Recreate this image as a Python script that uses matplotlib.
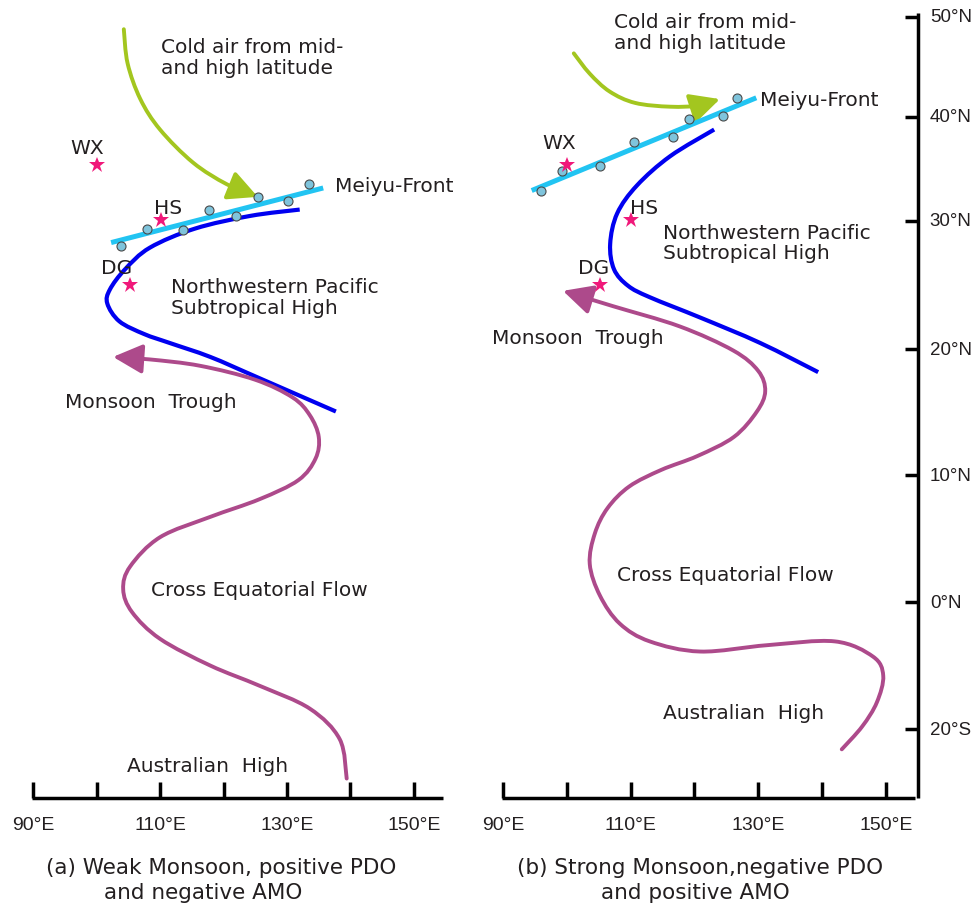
import matplotlib
matplotlib.use("Agg")
import matplotlib.pyplot as plt
import numpy as np
from matplotlib.path import Path
from matplotlib.patches import PathPatch, FancyArrowPatch, ArrowStyle

# ---- schematic data (lon in deg E, lat in schematic deg) ----
lon_ticks = [90, 100, 110, 120, 130, 140, 150]
lon_labels = {90: '90°E', 110: '110°E', 130: '130°E', 150: '150°E'}
lat_ticks = [46.1, 38.2, 30.0, 19.9, 10.0, 0.0, -10.0]
lat_labels = ['50°N', '40°N', '30°N', '20°N', '10°N', '0°N', '20°S']

# stalagmite sites (same in both panels)
site_names = ['WX', 'HS', 'DG']
site_lon = [100.0, 110.1, 105.2]
site_lat = [34.4, 30.1, 25.0]

# panel (a): weak monsoon
a_front_lon = [102.3, 135.7]
a_front_lat = [28.3, 32.6]
a_dots_lon = [103.9, 108.0, 113.6, 117.7, 122.0, 125.4, 130.2, 133.5]
a_dots_lat = [28.0, 29.4, 29.3, 30.9, 30.4, 31.9, 31.6, 32.9]
a_high_lon = [132.0, 124.2, 115.5, 108.4, 104.5, 102.1, 101.7, 103.6, 107.5, 111.5, 117.9, 125.3, 137.7]
a_high_lat = [30.9, 30.4, 29.4, 27.9, 26.2, 24.6, 23.5, 22.1, 21.1, 20.4, 19.3, 17.7, 15.0]
a_flow_lon = [139.4, 138.3, 133.6, 125.7, 117.9, 110.0, 105.6, 104.2, 105.3, 110.0, 117.9, 125.7,
              131.8, 134.5, 135.0, 133.6, 130.9, 125.0, 116.3, 108.4, 102.6]
a_flow_lat = [-13.9, -10.8, -8.4, -6.6, -5.0, -2.9, -0.8, 1.0, 2.8, 5.1, 6.7, 8.1,
              9.6, 11.3, 13.0, 14.7, 16.1, 17.5, 18.6, 19.1, 19.3]
a_cold_lon = [104.3, 104.9, 106.9, 110.0, 115.2, 120.5, 125.4]
a_cold_lat = [45.1, 42.4, 39.6, 37.2, 34.6, 32.9, 31.9]

# panel (b): strong monsoon
b_front_lon = [94.5, 129.7]
b_front_lat = [32.4, 39.7]
b_dots_lon = [96.0, 99.2, 105.2, 110.5, 116.6, 119.2, 124.5, 126.7]
b_dots_lat = [32.4, 33.9, 34.3, 36.2, 36.6, 38.0, 38.3, 39.7]
b_high_lon = [123.1, 116.2, 111.0, 107.9, 106.8, 107.4, 109.6, 113.0, 120.9, 130.3, 139.4]
b_high_lat = [37.2, 35.1, 32.8, 30.6, 28.2, 26.2, 24.9, 24.0, 22.4, 20.4, 18.1]
b_flow_lon = [143.1, 146.3, 148.6, 149.6, 148.0, 142.0, 131.4, 120.9, 113.0, 108.3, 105.2, 103.6,
              104.4, 106.4, 109.8, 114.8, 120.5, 126.2, 129.8, 131.1, 130.0, 126.1, 117.7, 107.2, 99.4]
b_flow_lat = [-11.6, -9.8, -7.9, -5.8, -4.3, -3.1, -3.4, -3.9, -3.1, -1.7, 0.5, 3.0,
              5.4, 7.4, 9.1, 10.4, 11.5, 13.0, 15.0, 16.6, 18.2, 19.8, 21.7, 23.3, 24.5]
b_cold_lon = [101.1, 103.6, 106.7, 110.7, 116.2, 120.9, 124.0]
b_cold_lat = [43.2, 41.6, 40.2, 39.3, 39.0, 39.1, 39.6]

TXT = '#231f20'
PURPLE = '#ad4a8b'
BLUE = '#0000f0'
CYAN = '#22c4f2'
GREEN = '#a3c61f'
PINK = '#f0187a'
FONT = 'DejaVu Sans'
TICKFONT = 'Liberation Sans'


def smooth_path(xs, ys):
    # Catmull-Rom through the points, handed to matplotlib as cubic Beziers
    pts = np.column_stack([xs, ys]).astype(float)
    n = len(pts)
    verts = [pts[0]]
    codes = [Path.MOVETO]
    for i in range(n - 1):
        p0 = pts[i - 1] if i > 0 else pts[i]
        p1, p2 = pts[i], pts[i + 1]
        p3 = pts[i + 2] if i + 2 < n else pts[i + 1]
        verts += [p1 + (p2 - p0) / 6, p2 - (p3 - p1) / 6, p2]
        codes += [Path.CURVE4] * 3
    return Path(verts, codes)


def curve(ax, xs, ys, color, lw=3.0):
    ax.add_patch(PathPatch(smooth_path(xs, ys), fill=False, edgecolor=color,
                           lw=lw, capstyle='butt'))


def arrow_curve(ax, xs, ys, color, lw=3.0, size=18):
    style = ArrowStyle('-|>', head_length=1.0, head_width=0.5)
    ax.add_patch(FancyArrowPatch(path=smooth_path(xs, ys), arrowstyle=style,
                                 mutation_scale=size, color=color, lw=lw))


def common(ax, front_lon, front_lat, dots_lon, dots_lat):
    ax.plot(front_lon, front_lat, color=CYAN, lw=3.6, solid_capstyle='butt', zorder=3)
    ax.plot(dots_lon, dots_lat, 'o', ms=6.5, mfc='#7fc4dc', mec='#4a4a4a', mew=0.8, zorder=4)
    ax.plot(site_lon, site_lat, '*', ms=12, color=PINK, mew=0, zorder=5)
    # bottom longitude axis
    ax.plot([89.85, lon_ticks[-1] + 4.6], [-15.4, -15.4], color='black', lw=2.5,
            solid_capstyle='butt')
    for t in lon_ticks:
        ax.plot([t, t], [-15.4, -14.2], color='black', lw=2.5, solid_capstyle='butt')
    for t, s in lon_labels.items():
        ax.text(t, -17.5, s, ha='center', va='center', fontsize=14,
                family=TICKFONT, color=TXT)


fig = plt.figure(figsize=(9.76, 9.04), dpi=100)
ax_a = fig.add_axes([0, 0, 470 / 976, 1])
ax_b = fig.add_axes([470 / 976, 0, 506 / 976, 1])
ax_a.set_xlim(84.80, 158.82)
ax_b.set_xlim(84.83, 164.14)
for ax in (ax_a, ax_b):
    ax.set_ylim(-23.70, 47.48)
    ax.axis('off')

tk = dict(fontsize=14.5, family=FONT, color=TXT, va='center', ha='left')
cap = dict(ha='center', va='center', fontsize=15.5, family=FONT, color=TXT)

# ---------- panel (a) ----------
curve(ax_a, a_high_lon, a_high_lat, BLUE, lw=3.0)
arrow_curve(ax_a, a_flow_lon, a_flow_lat, PURPLE, lw=2.8)
arrow_curve(ax_a, a_cold_lon, a_cold_lat, GREEN, lw=2.8)
common(ax_a, a_front_lon, a_front_lat, a_dots_lon, a_dots_lat)
ax_a.text(110.2, 42.9, 'Cold air from mid-\nand high latitude', linespacing=1.1, **tk)
ax_a.text(95.8, 35.8, 'WX', **tk)
ax_a.text(109.1, 31.1, 'HS', **tk)
ax_a.text(100.7, 26.3, 'DG', **tk)
ax_a.text(137.6, 32.8, 'Meiyu-Front', **tk)
ax_a.text(111.7, 24.0, 'Northwestern Pacific\nSubtropical High', linespacing=1.1, **tk)
ax_a.text(95.0, 15.8, 'Monsoon  Trough', **tk)
ax_a.text(108.6, 1.0, 'Cross Equatorial Flow', **tk)
ax_a.text(104.8, -12.9, 'Australian  High', **tk)
ax_a.text(119.6, -20.9, '(a) Weak Monsoon, positive PDO', **cap)
ax_a.text(116.8, -22.8, 'and negative AMO', **cap)

# ---------- panel (b) ----------
curve(ax_b, b_high_lon, b_high_lat, BLUE, lw=3.0)
arrow_curve(ax_b, b_flow_lon, b_flow_lat, PURPLE, lw=2.8)
arrow_curve(ax_b, b_cold_lon, b_cold_lat, GREEN, lw=2.8)
common(ax_b, b_front_lon, b_front_lat, b_dots_lon, b_dots_lat)
ax_b.text(107.4, 44.9, 'Cold air from mid-\nand high latitude', linespacing=1.1, **tk)
ax_b.text(96.1, 36.2, 'WX', **tk)
ax_b.text(109.9, 31.1, 'HS', **tk)
ax_b.text(101.8, 26.3, 'DG', **tk)
ax_b.text(130.3, 39.6, 'Meiyu-Front', **tk)
ax_b.text(115.1, 28.3, 'Northwestern Pacific\nSubtropical High', linespacing=1.1, **tk)
ax_b.text(88.3, 20.8, 'Monsoon  Trough', **tk)
ax_b.text(107.9, 2.2, 'Cross Equatorial Flow', **tk)
ax_b.text(115.1, -8.7, 'Australian  High', **tk)
ax_b.text(120.9, -20.9, '(b) Strong Monsoon,negative PDO', **cap)
ax_b.text(120.1, -22.8, 'and positive AMO', **cap)

# right latitude axis
ax_b.plot([155.0, 155.0], [-15.4, 46.4], color='black', lw=2.5, solid_capstyle='butt')
for t, s in zip(lat_ticks, lat_labels):
    ax_b.plot([153.0, 155.0], [t, t], color='black', lw=2.5, solid_capstyle='butt')
    ax_b.text(156.9, t, s, ha='left', va='center', fontsize=13.5,
              family=TICKFONT, color=TXT)

fig.savefig('out.png', dpi=100)
